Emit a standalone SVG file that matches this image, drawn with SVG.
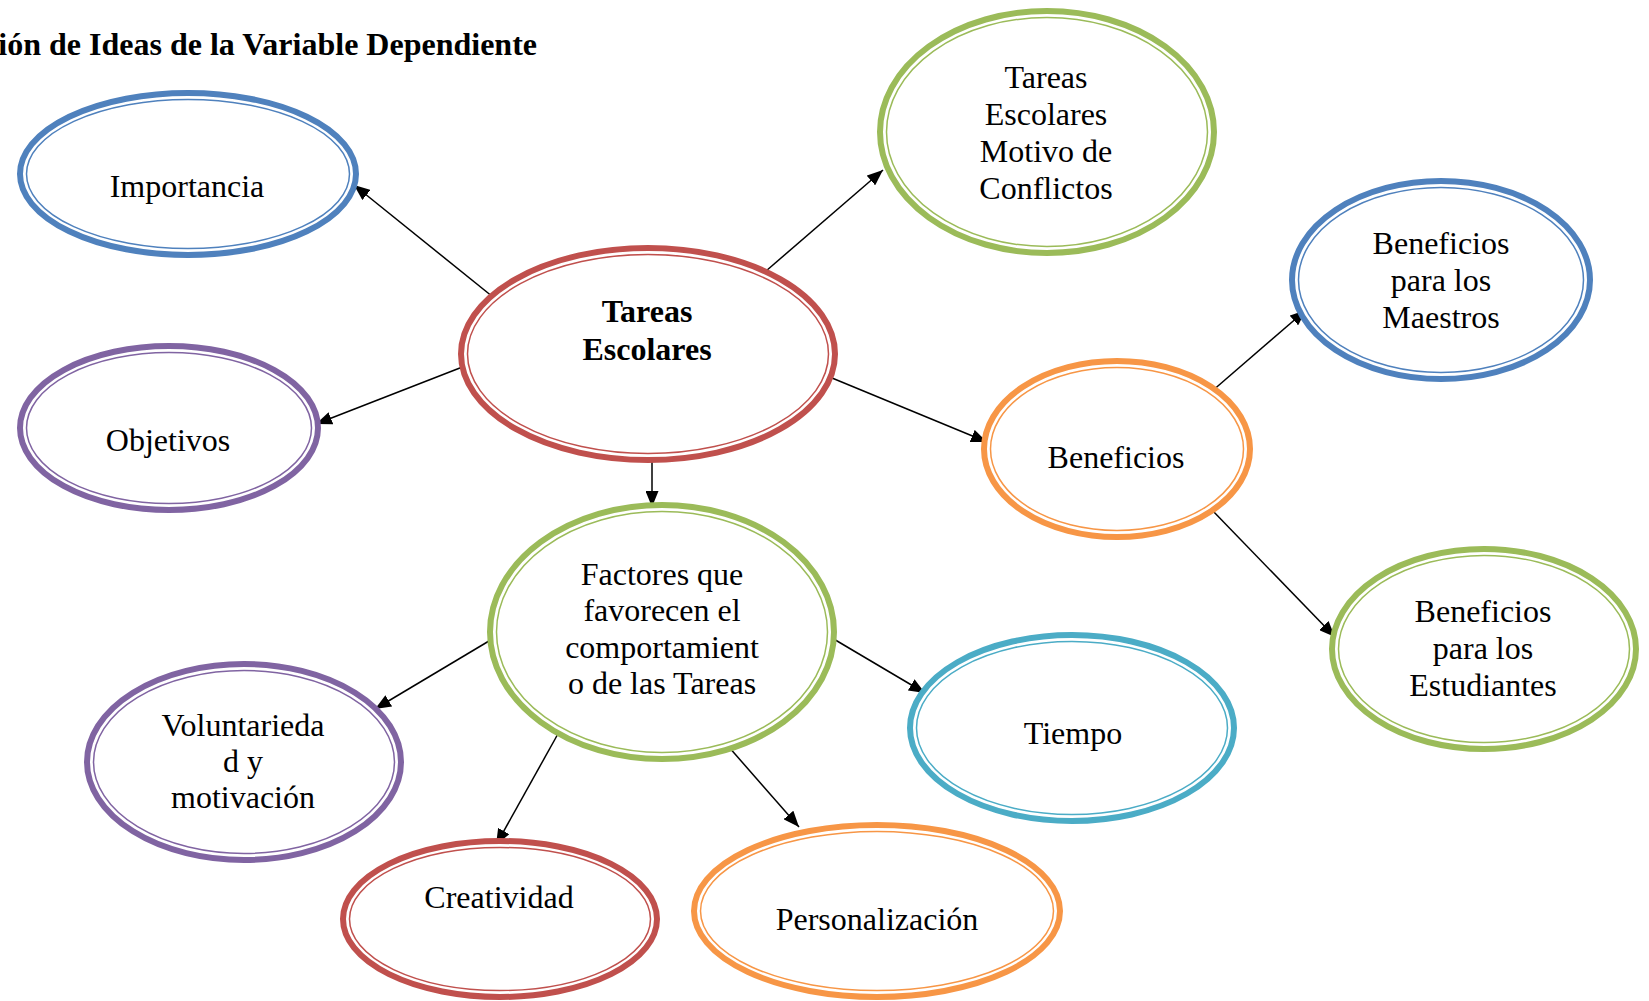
<svg xmlns="http://www.w3.org/2000/svg" width="1649" height="1001" viewBox="0 0 1649 1001">
<style>
.o{fill:#fff;stroke-width:6}
.i{fill:none;stroke-width:1.5}
.t{font-family:"Liberation Serif","Times New Roman",serif;font-size:32px;fill:#000;text-anchor:middle}
.b{font-weight:bold}
.blue{stroke:#4F81BD}.red{stroke:#C0504D}.green{stroke:#9BBB59}.purple{stroke:#8064A2}.orange{stroke:#F79646}.aqua{stroke:#4BACC6}
.c line{stroke:#000;stroke-width:1.5;marker-end:url(#ah)}
</style>
<defs>
<marker id="ah" markerUnits="userSpaceOnUse" markerWidth="16" markerHeight="13" refX="16" refY="6.5" orient="auto">
<path d="M0,0 L16,6.5 L0,13 z" fill="#000"/>
</marker>
</defs>
<rect width="1649" height="1001" fill="#fff"/>
<text x="537" y="55" class="t b" style="text-anchor:end;font-size:32px">ión de Ideas de la Variable Dependiente</text>
<g class="c">
<line x1="493" y1="297" x2="354" y2="185"/>
<line x1="766" y1="271" x2="883" y2="170"/>
<line x1="465" y1="366" x2="316" y2="424"/>
<line x1="832" y1="378" x2="987" y2="442"/>
<line x1="652" y1="462" x2="652" y2="507"/>
<line x1="1211" y1="392" x2="1306" y2="310"/>
<line x1="1211" y1="509" x2="1335" y2="637"/>
<line x1="494" y1="638" x2="375" y2="709"/>
<line x1="832" y1="638" x2="925" y2="693"/>
<line x1="559" y1="732" x2="496" y2="845"/>
<line x1="728" y1="746" x2="799" y2="827"/>
</g>
<g id="importancia">
<ellipse class="o blue" cx="188" cy="174" rx="168" ry="81"/>
<ellipse class="i blue" cx="188" cy="174" rx="161.5" ry="74.5"/>
<text class="t" x="187" y="197">Importancia</text>
</g>
<g id="tareas-escolares">
<ellipse class="o red" cx="648" cy="354" rx="187" ry="106"/>
<ellipse class="i red" cx="648" cy="354" rx="180.5" ry="99.5"/>
<text class="t b" x="647" y="322">Tareas</text>
<text class="t b" x="647" y="360">Escolares</text>
</g>
<g id="motivo-conflictos">
<ellipse class="o green" cx="1047" cy="132" rx="167" ry="121"/>
<ellipse class="i green" cx="1047" cy="132" rx="160.5" ry="114.5"/>
<text class="t" x="1046" y="88">Tareas</text>
<text class="t" x="1046" y="125">Escolares</text>
<text class="t" x="1046" y="162">Motivo de</text>
<text class="t" x="1046" y="199">Conflictos</text>
</g>
<g id="objetivos">
<ellipse class="o purple" cx="169" cy="428" rx="149" ry="82"/>
<ellipse class="i purple" cx="169" cy="428" rx="142.5" ry="75.5"/>
<text class="t" x="168" y="451">Objetivos</text>
</g>
<g id="beneficios-maestros">
<ellipse class="o blue" cx="1441" cy="280" rx="149" ry="99"/>
<ellipse class="i blue" cx="1441" cy="280" rx="142.5" ry="92.5"/>
<text class="t" x="1441" y="254">Beneficios</text>
<text class="t" x="1441" y="291">para los</text>
<text class="t" x="1441" y="328">Maestros</text>
</g>
<g id="beneficios">
<ellipse class="o orange" cx="1117" cy="449" rx="133" ry="88"/>
<ellipse class="i orange" cx="1117" cy="449" rx="126.5" ry="81.5"/>
<text class="t" x="1116" y="468">Beneficios</text>
</g>
<g id="factores">
<ellipse class="o green" cx="662" cy="632" rx="172" ry="127"/>
<ellipse class="i green" cx="662" cy="632" rx="165.5" ry="120.5"/>
<text class="t" x="662" y="585">Factores que</text>
<text class="t" x="662" y="621">favorecen el</text>
<text class="t" x="662" y="658">comportamient</text>
<text class="t" x="662" y="694">o de las Tareas</text>
</g>
<g id="beneficios-estudiantes">
<ellipse class="o green" cx="1484" cy="649" rx="152" ry="100"/>
<ellipse class="i green" cx="1484" cy="649" rx="145.5" ry="93.5"/>
<text class="t" x="1483" y="622">Beneficios</text>
<text class="t" x="1483" y="659">para los</text>
<text class="t" x="1483" y="696">Estudiantes</text>
</g>
<g id="voluntariedad">
<ellipse class="o purple" cx="244" cy="762" rx="157" ry="98"/>
<ellipse class="i purple" cx="244" cy="762" rx="150.5" ry="91.5"/>
<text class="t" x="243" y="736">Voluntarieda</text>
<text class="t" x="243" y="772">d y</text>
<text class="t" x="243" y="808">motivación</text>
</g>
<g id="tiempo">
<ellipse class="o aqua" cx="1072" cy="728" rx="162" ry="93"/>
<ellipse class="i aqua" cx="1072" cy="728" rx="155.5" ry="86.5"/>
<text class="t" x="1073" y="744">Tiempo</text>
</g>
<g id="creatividad">
<ellipse class="o red" cx="500" cy="919" rx="157" ry="78"/>
<ellipse class="i red" cx="500" cy="919" rx="150.5" ry="71.5"/>
<text class="t" x="499" y="908">Creatividad</text>
</g>
<g id="personalizacion">
<ellipse class="o orange" cx="877" cy="911" rx="183" ry="86"/>
<ellipse class="i orange" cx="877" cy="911" rx="176.5" ry="79.5"/>
<text class="t" x="877" y="930">Personalización</text>
</g>
</svg>
